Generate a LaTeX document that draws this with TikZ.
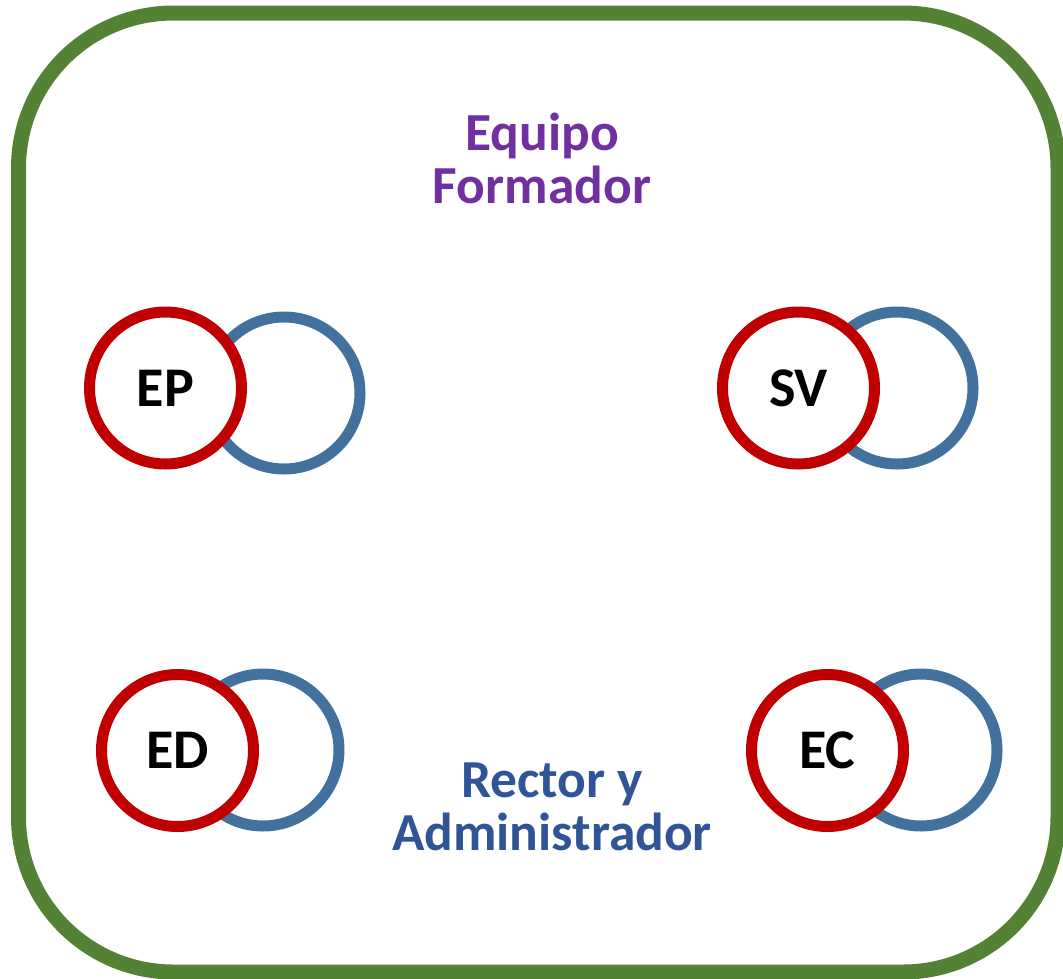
\documentclass[tikz,border=0pt]{standalone}
\usepackage{fontspec}
\setmainfont{Carlito}
\definecolor{framegreen}{HTML}{548235}
\definecolor{ringred}{HTML}{C00000}
\definecolor{ringblue}{HTML}{41719C}
\definecolor{labelpurple}{HTML}{7030A0}
\definecolor{labelblue}{HTML}{2F5597}
\begin{document}
\begin{tikzpicture}[x=1pt,y=-1pt,
  redring/.style={circle,draw=ringred,fill=white,line width=11pt,minimum size=152pt,inner sep=0pt,
    font=\fontsize{56}{60}\selectfont\bfseries,text=black},
  bluering/.style={circle,draw=ringblue,line width=11pt,minimum size=152pt,inner sep=0pt},
  grouplabel/.style={align=center,inner sep=0pt,font=\fontsize{53.5}{53}\selectfont\bfseries}]
\useasboundingbox (0,0) rectangle (1063,978);
\draw[framegreen,line width=15pt,rounded corners=155pt] (18.5,13) rectangle (1058,972);
% top-left pair
\node[bluering] (epb) at (284,393) {};
\node[redring] (ep) at (165.5,388) {EP};
% top-right pair
\node[bluering] (svb) at (897,388) {};
\node[redring] (sv) at (798.5,388) {SV};
% bottom-left pair
\node[bluering] (edb) at (263,750) {};
\node[redring] (ed) at (177.5,750.5) {ED};
% bottom-right pair
\node[bluering] (ecb) at (921,750) {};
\node[redring] (ec) at (827.5,750.5) {EC};
% labels
\node[grouplabel,text=labelpurple,anchor=base] (formador) at (542,203) {Equipo\\Formador};
\node[grouplabel,text=labelblue,anchor=base] (rector) at (552,850) {Rector y\\Administrador};
\end{tikzpicture}
\end{document}
